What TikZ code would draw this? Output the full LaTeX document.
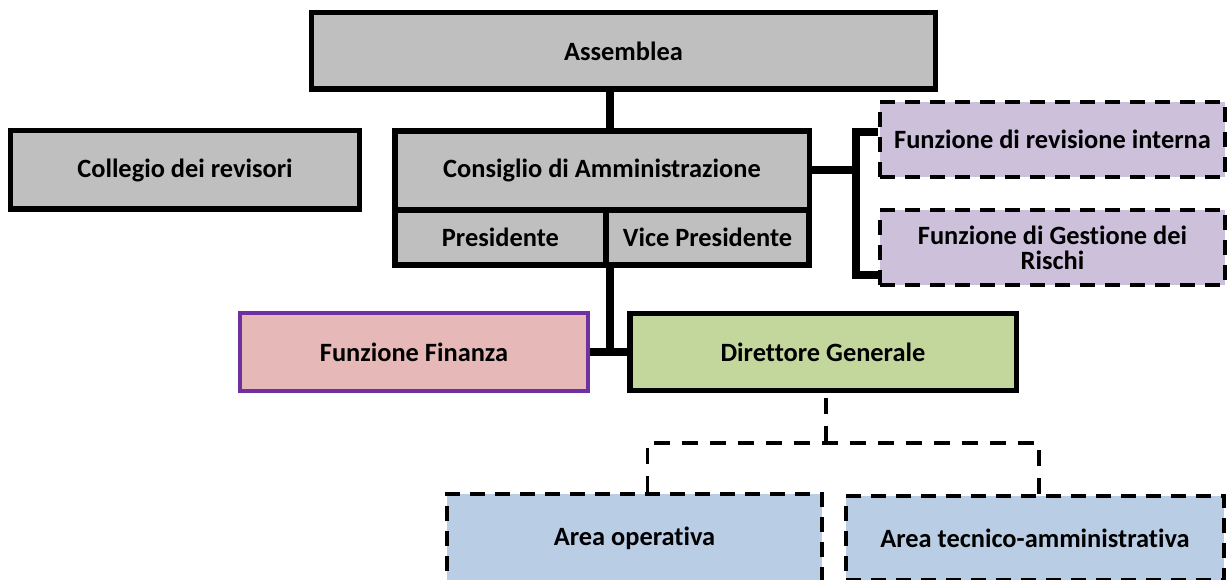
\documentclass[tikz,border=0pt]{standalone}
\usepackage{fontspec}
\setmainfont[Ligatures=NoCommon]{Carlito}
\usetikzlibrary{positioning}
\definecolor{grigio}{HTML}{BFBFBF}
\definecolor{lilla}{HTML}{CCC0DA}
\definecolor{rosa}{HTML}{E6B9B8}
\definecolor{viola}{HTML}{7030A0}
\definecolor{verde}{HTML}{C3D69B}
\definecolor{azzurro}{HTML}{B9CDE5}
\tikzset{
	box/.style={rectangle,draw=black,line width=5.5bp,inner sep=0pt,align=center,
		font=\bfseries\fontsize{26.5}{25}\selectfont},
	boxtratt/.style={box,line width=3.5bp,dash pattern=on 15bp off 10bp},
	linea/.style={line width=8bp},
	tratteggio/.style={line width=3.5bp,dash pattern=on 16bp off 12bp},
}
\begin{document}
\begin{tikzpicture}[x=1bp,y=-1bp]
	\clip (0,0) rectangle (1230,580);
	\node[box,fill=grigio,minimum width=623.5bp,minimum height=76.5bp] (asm) at (623.5,51) {Assemblea};
	\node[box,fill=grigio,minimum width=348.5bp,minimum height=78.5bp] (coll) at (185,170) {Collegio dei revisori};
	\node[box,fill=grigio,minimum width=414.5bp,minimum height=79.25bp] (cda) at (602,170.4) {Consiglio di Amministrazione};
	\node[box,fill=grigio,minimum width=211.25bp,minimum height=55.25bp] (pres) at (500.4,237.6) {Presidente};
	\node[box,fill=grigio,minimum width=203.25bp,minimum height=55.25bp] (vice) at (707.6,237.6) {Vice Presidente};
	\node[boxtratt,fill=lilla,minimum width=345bp,minimum height=75bp] (rev) at (1052.5,139.5) {Funzione di revisione interna};
	\node[boxtratt,fill=lilla,minimum width=345bp,minimum height=75bp] (rischi) at (1052.5,247.5) {Funzione di Gestione dei\\Rischi};
	\node[box,draw=viola,line width=4bp,fill=rosa,minimum width=348bp,minimum height=78bp] (fin) at (414,352) {Funzione Finanza};
	\node[box,fill=verde,minimum width=386.5bp,minimum height=76.5bp] (dg) at (823,352) {Direttore Generale};
	\node[boxtratt,fill=azzurro,minimum width=375bp,minimum height=88bp] (op) at (634.5,538) {Area operativa};
	\node[boxtratt,fill=azzurro,minimum width=378bp,minimum height=84bp] (tec) at (1035,538) {Area tecnico-amministrativa};
	
	\coordinate (asse) at (610,0);
	\coordinate (bivio) at (826,443);
	\draw[linea] (asm.south -| asse) -- (cda.north -| asse);
	\draw[linea] (pres.south -| asse) -- (asse |- dg.west);
	\draw[linea] (fin.east) -- (dg.west);
	\draw[linea] (cda.east) -- ++(44,0);
	\draw[linea] ([yshift=7bp]rev.west) -- ++(-22,0) |- ([yshift=12bp]rischi.south west);
	\draw[tratteggio] ([yshift=-5bp]dg.south -| bivio) -- (bivio);
	\draw[tratteggio] ([xshift=13bp]op.north) |- (bivio) -| ([xshift=4bp]tec.north);
\end{tikzpicture}
\end{document}
